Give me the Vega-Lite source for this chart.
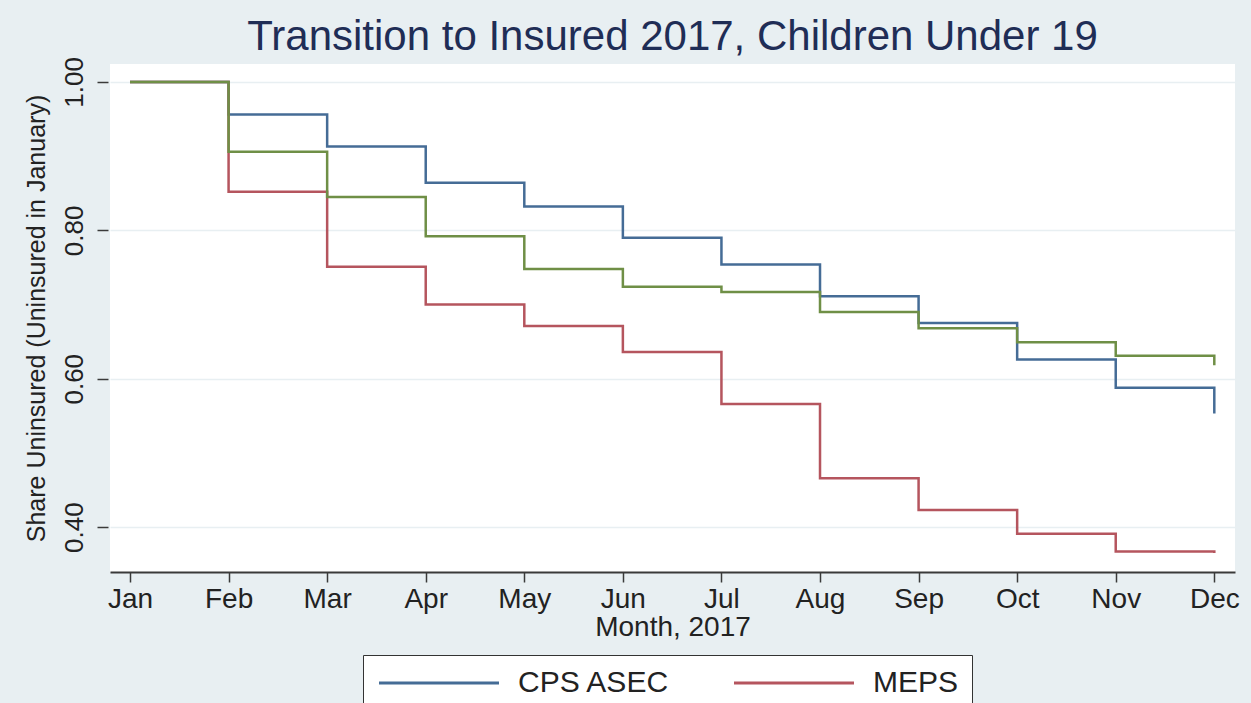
{
  "$schema": "https://vega.github.io/schema/vega-lite/v6.json",
  "width": 1125,
  "height": 508,
  "autosize": {"type": "none"},
  "padding": {"left": 110, "top": 64, "right": 16, "bottom": 131},
  "background": "#E8EFF2",
  "title": {
    "text": "Transition to Insured 2017, Children Under 19",
    "font": "Liberation Sans",
    "fontSize": 42,
    "fontWeight": "normal",
    "color": "#1F2D56",
    "anchor": "middle",
    "frame": "group",
    "baseline": "alphabetic",
    "offset": -35
  },
  "data": {
    "values": [
      {"survey": "CPS ASEC", "month": 1, "share": 1.000},
      {"survey": "CPS ASEC", "month": 2, "share": 0.956},
      {"survey": "CPS ASEC", "month": 3, "share": 0.913},
      {"survey": "CPS ASEC", "month": 4, "share": 0.864},
      {"survey": "CPS ASEC", "month": 5, "share": 0.832},
      {"survey": "CPS ASEC", "month": 6, "share": 0.790},
      {"survey": "CPS ASEC", "month": 7, "share": 0.754},
      {"survey": "CPS ASEC", "month": 8, "share": 0.711},
      {"survey": "CPS ASEC", "month": 9, "share": 0.675},
      {"survey": "CPS ASEC", "month": 10, "share": 0.626},
      {"survey": "CPS ASEC", "month": 11, "share": 0.588},
      {"survey": "CPS ASEC", "month": 12, "share": 0.553},
      {"survey": "MEPS", "month": 1, "share": 1.000},
      {"survey": "MEPS", "month": 2, "share": 0.852},
      {"survey": "MEPS", "month": 3, "share": 0.751},
      {"survey": "MEPS", "month": 4, "share": 0.700},
      {"survey": "MEPS", "month": 5, "share": 0.671},
      {"survey": "MEPS", "month": 6, "share": 0.636},
      {"survey": "MEPS", "month": 7, "share": 0.566},
      {"survey": "MEPS", "month": 8, "share": 0.466},
      {"survey": "MEPS", "month": 9, "share": 0.423},
      {"survey": "MEPS", "month": 10, "share": 0.391},
      {"survey": "MEPS", "month": 11, "share": 0.367},
      {"survey": "MEPS", "month": 12, "share": 0.365},
      {"survey": "SIPP", "month": 1, "share": 1.000},
      {"survey": "SIPP", "month": 2, "share": 0.906},
      {"survey": "SIPP", "month": 3, "share": 0.845},
      {"survey": "SIPP", "month": 4, "share": 0.792},
      {"survey": "SIPP", "month": 5, "share": 0.748},
      {"survey": "SIPP", "month": 6, "share": 0.724},
      {"survey": "SIPP", "month": 7, "share": 0.717},
      {"survey": "SIPP", "month": 8, "share": 0.690},
      {"survey": "SIPP", "month": 9, "share": 0.668},
      {"survey": "SIPP", "month": 10, "share": 0.649},
      {"survey": "SIPP", "month": 11, "share": 0.631},
      {"survey": "SIPP", "month": 12, "share": 0.618}
    ]
  },
  "mark": {"type": "line", "interpolate": "step-after", "strokeWidth": 2.5},
  "encoding": {
    "x": {
      "field": "month",
      "type": "quantitative",
      "scale": {"domain": [0.797, 12.21], "nice": false, "zero": false},
      "axis": {
        "values": [1, 2, 3, 4, 5, 6, 7, 8, 9, 10, 11, 12],
        "labelExpr": "['Jan','Feb','Mar','Apr','May','Jun','Jul','Aug','Sep','Oct','Nov','Dec'][datum.value - 1]",
        "grid": false,
        "domainColor": "#3A3A3A",
        "domainWidth": 2,
        "tickColor": "#3A3A3A",
        "tickWidth": 1.5,
        "tickSize": 10,
        "labelFont": "Liberation Sans",
        "labelFontSize": 28,
        "labelColor": "#222222",
        "labelPadding": 3,
        "labelFlush": false,
        "labelOverlap": false,
        "title": "Month, 2017",
        "titleFont": "Liberation Sans",
        "titleFontSize": 28,
        "titleFontWeight": "normal",
        "titleColor": "#222222",
        "titlePadding": 0
      }
    },
    "y": {
      "field": "share",
      "type": "quantitative",
      "scale": {"domain": [0.3395, 1.0242], "nice": false, "zero": false},
      "axis": {
        "values": [0.4, 0.6, 0.8, 1.0],
        "format": ".2f",
        "domain": false,
        "offset": 2,
        "tickColor": "#3A3A3A",
        "tickWidth": 1.5,
        "tickSize": 11,
        "grid": true,
        "gridColor": "#E8EFF2",
        "gridWidth": 1.5,
        "labelAngle": -90,
        "labelFont": "Liberation Sans",
        "labelFontSize": 26,
        "labelColor": "#222222",
        "labelPadding": 10,
        "title": "Share Uninsured (Uninsured in January)",
        "titleFont": "Liberation Sans",
        "titleFontSize": 25,
        "titleFontWeight": "normal",
        "titleColor": "#222222",
        "titlePadding": 12
      }
    },
    "color": {
      "field": "survey",
      "type": "nominal",
      "scale": {
        "domain": ["CPS ASEC", "MEPS", "SIPP"],
        "range": ["#456C96", "#B5555E", "#6F8F46"]
      },
      "legend": {
        "orient": "none",
        "legendX": 253,
        "legendY": 591,
        "direction": "horizontal",
        "title": null,
        "values": ["CPS ASEC", "MEPS"],
        "symbolType": "M-6,0H6",
        "symbolSize": 400,
        "symbolStrokeWidth": 3,
        "symbolOffset": 48,
        "labelOffset": 64,
        "labelFont": "Liberation Sans",
        "labelFontSize": 30,
        "labelColor": "#222222",
        "labelLimit": 300,
        "columnPadding": 58,
        "padding": 13,
        "fillColor": "white",
        "strokeColor": "#333333"
      }
    }
  },
  "config": {"view": {"fill": "white", "stroke": null}}
}
